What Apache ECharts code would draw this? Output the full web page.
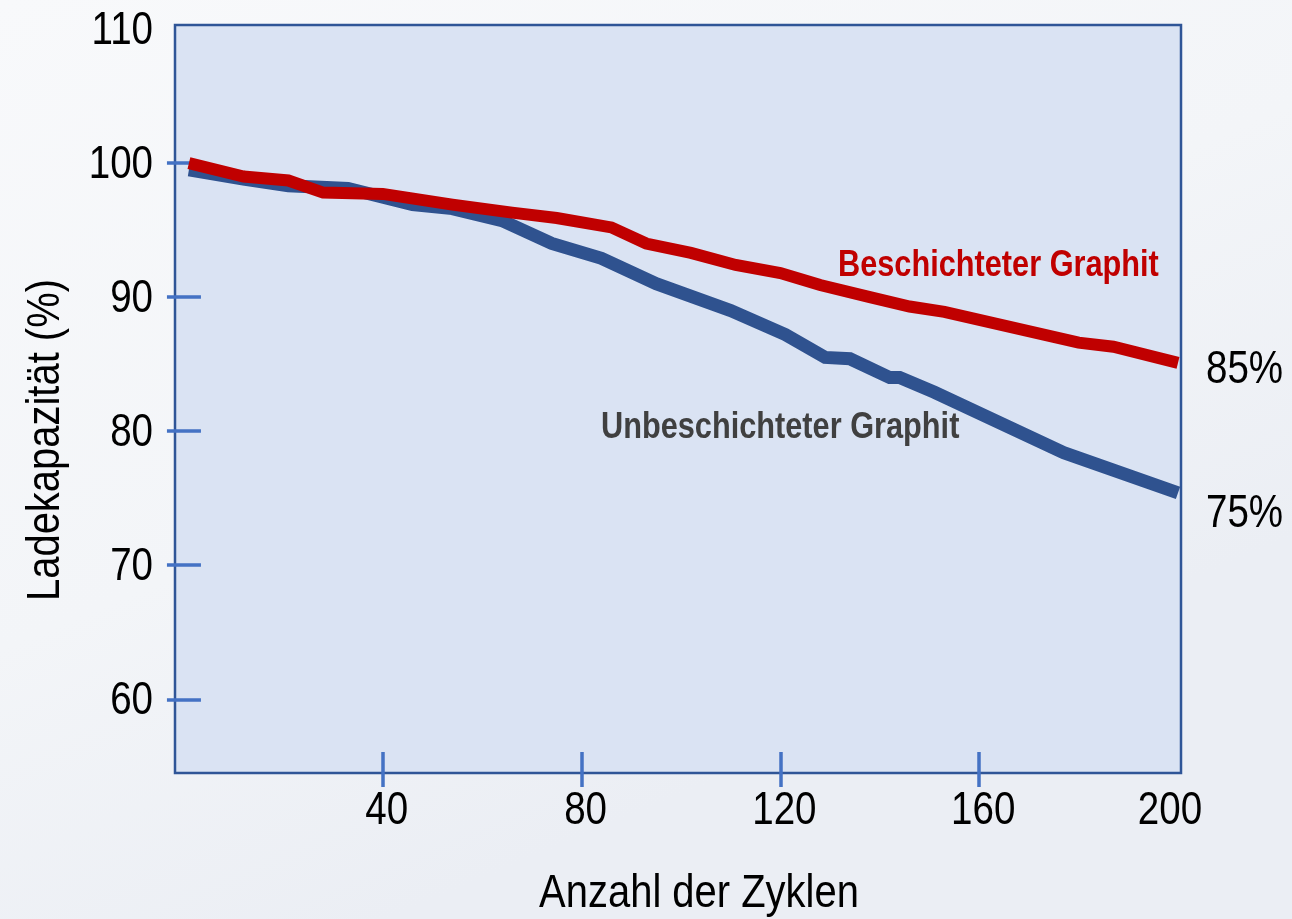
<!DOCTYPE html>
<html>
<head>
<meta charset="utf-8">
<script src="https://cdn.jsdelivr.net/npm/echarts@6/dist/echarts.min.js"></script>
<style>
html,body{margin:0;padding:0;width:1292px;height:919px;overflow:hidden;}
#chart{width:1292px;height:919px;}
</style>
</head>
<body>
<div id="chart"></div>
<script>
// Data
const cyclesCoated   = [1, 12, 21, 28, 40, 54, 66, 75, 86, 93, 102, 111, 120, 128, 138, 146, 153, 180, 187, 200];
const capacityCoated = [100.0, 99.0, 98.7, 97.8, 97.7, 96.9, 96.3, 95.9, 95.2, 94.0, 93.3, 92.4, 91.8, 90.9, 90.0, 89.3, 88.9, 86.6, 86.3, 85.1];
const cyclesUncoated   = [1, 12, 21, 33, 46, 54, 64, 74, 84, 95, 110, 121, 129, 134, 142, 144, 151, 177, 200];
const capacityUncoated = [99.5, 98.8, 98.3, 98.1, 96.9, 96.6, 95.7, 94.0, 92.9, 91.0, 89.0, 87.2, 85.5, 85.4, 84.0, 84.0, 82.9, 78.4, 75.4];
const xTickValues  = [40, 80, 120, 160];
const xLabelValues = [40, 80, 120, 160, 200];
const yTickValues  = [60, 70, 80, 90, 100];
const yLabelValues = [60, 70, 80, 90, 100, 110];
const seriesNames = ['Beschichteter Graphit', 'Unbeschichteter Graphit'];
const endLabels = ['85%', '75%'];
const xTitle = 'Anzahl der Zyklen';
const yTitle = 'Ladekapazität (%)';

const FONT = '"Liberation Sans", Arial, sans-serif';
const NARROW = 0.82;   // horizontal squeeze to imitate a narrow typeface
const tickColor = '#4472c4';
const frameColor = '#2f5597';
const X_MIN = -1.8, X_MAX = 200.6, Y_MIN = 54.5, Y_MAX = 110.3;

const pairs = (xs, ys) => xs.map((x, i) => [x, ys[i]]);

const chart = echarts.init(document.getElementById('chart'), null, {renderer: 'canvas', width: 1292, height: 919});
chart.setOption({
  animation: false,
  backgroundColor: {
    type: 'linear', x: 0, y: 0, x2: 0.3, y2: 1,
    colorStops: [
      {offset: 0, color: '#f8f9fb'},
      {offset: 0.6, color: '#f3f5f8'},
      {offset: 1, color: '#ebeef4'}
    ]
  },
  grid: {
    left: 175, right: 111, top: 25, bottom: 146,
    show: true, backgroundColor: '#dae3f3', borderColor: frameColor, borderWidth: 2.5
  },
  xAxis: [
    {
      type: 'value', min: X_MIN, max: X_MAX, position: 'bottom',
      axisLine: {show: false}, splitLine: {show: false},
      axisTick: {show: true, inside: false, length: 14, customValues: xTickValues,
                 lineStyle: {color: tickColor, width: 3.5}},
      axisLabel: {show: false}
    },
    {
      type: 'value', min: X_MIN, max: X_MAX, position: 'bottom',
      axisLine: {show: false}, splitLine: {show: false},
      axisTick: {show: true, inside: true, length: 21, customValues: xTickValues,
                 lineStyle: {color: tickColor, width: 3.5}},
      axisLabel: {show: false}
    }
  ],
  yAxis: [
    {
      type: 'value', min: Y_MIN, max: Y_MAX, position: 'left',
      axisLine: {show: false}, splitLine: {show: false},
      axisTick: {show: true, inside: false, length: 17, customValues: yTickValues,
                 lineStyle: {color: tickColor, width: 3.5}},
      axisLabel: {show: false}
    },
    {
      type: 'value', min: Y_MIN, max: Y_MAX, position: 'left',
      axisLine: {show: false}, splitLine: {show: false},
      axisTick: {show: true, inside: true, length: 17, customValues: yTickValues,
                 lineStyle: {color: tickColor, width: 3.5}},
      axisLabel: {show: false}
    }
  ],
  series: [
    {
      name: seriesNames[1], type: 'line', xAxisIndex: 0, yAxisIndex: 0,
      data: pairs(cyclesUncoated, capacityUncoated),
      showSymbol: false, symbol: 'none',
      lineStyle: {color: '#2f528f', width: 13, cap: 'butt', join: 'miter'},
      z: 3
    },
    {
      name: seriesNames[0], type: 'line', xAxisIndex: 0, yAxisIndex: 0,
      data: pairs(cyclesCoated, capacityCoated),
      showSymbol: false, symbol: 'none',
      lineStyle: {color: '#c00000', width: 12, cap: 'butt', join: 'miter'},
      z: 4
    }
  ]
});

// Text drawn as graphic elements (squeezed horizontally), positioned through the axes' scales
const xPx = v => chart.convertToPixel({xAxisIndex: 0}, v);
const yPx = v => chart.convertToPixel({yAxisIndex: 0}, v);
const plotBottom = yPx(Y_MIN);
const plotLeft = xPx(X_MIN);
const plotRight = xPx(X_MAX);

function txt(text, x, y, opts) {
  opts = opts || {};
  return {
    type: 'text', x: x, y: y, z: 10, silent: true,
    scaleX: opts.scaleX || NARROW, rotation: opts.rotation || 0,
    style: {
      text: text, fontFamily: FONT, fontSize: opts.size || 47,
      fontWeight: opts.weight || 'normal', fill: opts.color || '#000',
      textAlign: opts.align || 'center', textVerticalAlign: 'middle'
    }
  };
}

const graphics = [];
xLabelValues.forEach(v => graphics.push(txt(String(v), xPx(v) + (v === 200 ? -8 : 4), plotBottom + 38)));
yLabelValues.forEach(v => graphics.push(txt(String(v), plotLeft - 22, yPx(v) + 2, {align: 'right'})));
graphics.push(txt(xTitle, (plotLeft + plotRight) / 2 + 21, plotBottom + 121, {scaleX: 0.85}));
graphics.push(txt(yTitle, 46, 440, {scaleX: 0.85, rotation: Math.PI / 2}));
graphics.push(txt(seriesNames[0], 838, 266, {size: 37, weight: 'bold', color: '#c00000', align: 'left', scaleX: 0.83}));
graphics.push(txt(seriesNames[1], 601, 428, {size: 37, weight: 'bold', color: '#404040', align: 'left', scaleX: 0.83}));
graphics.push(txt(endLabels[0], plotRight + 25, yPx(capacityCoated[capacityCoated.length - 1]) + 7, {align: 'left'}));
graphics.push(txt(endLabels[1], plotRight + 25, yPx(capacityUncoated[capacityUncoated.length - 1]) + 21, {align: 'left'}));
chart.setOption({graphic: graphics});
</script>
</body>
</html>
